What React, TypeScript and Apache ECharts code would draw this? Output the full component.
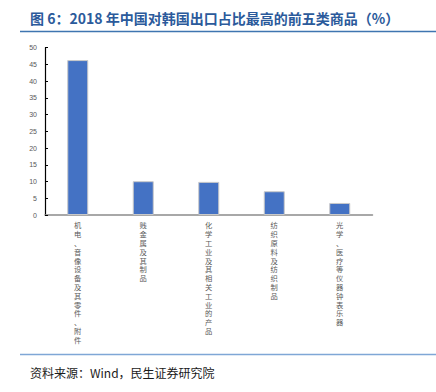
import React, { useEffect, useRef } from "react";
import * as echarts from "echarts";

const categories = [
  "机电、音像设备及其零件、附件",
  "贱金属及其制品",
  "化学工业及其相关工业的产品",
  "纺织原料及纺织制品",
  "光学、医疗等仪器钟表乐器",
];
const values = [46.3, 10.1, 9.9, 7.1, 3.6];
const yTicks = { min: 0, max: 50, interval: 5 };
const titleText = "图 6：2018 年中国对韩国出口占比最高的前五类商品（%）";
const sourceText = "资料来源：Wind，民生证券研究院";

export default function App() {
  const ref = useRef<HTMLDivElement>(null);
  useEffect(() => {
    document.body.style.margin = "0";
    const chart = echarts.init(ref.current!, null, { renderer: "svg" });
    chart.setOption({
      animation: false,
      backgroundColor: "#ffffff",
      grid: { left: 45, right: 63.5, top: 47.7, bottom: 177, containLabel: false },
      xAxis: {
        type: "category",
        data: categories,
        axisLine: { lineStyle: { color: "#8c8c8c", width: 1.5 } },
        axisTick: { show: false },
        axisLabel: {
          interval: 0,
          margin: 6,
          color: "#595959",
          fontSize: 7.3,
          lineHeight: 8.8,
          verticalAlign: "top",
          fontFamily: "Noto Sans CJK SC",
          formatter: (v: string) => v.split("").join("\n"),
        },
      },
      yAxis: {
        type: "value",
        min: yTicks.min,
        max: yTicks.max,
        interval: yTicks.interval,
        splitLine: { show: false },
        axisLine: { show: true, lineStyle: { color: "#000000", width: 1.2 } },
        axisTick: { show: true, inside: true, length: 3, lineStyle: { color: "#000000" } },
        axisLabel: {
          color: "#595959",
          fontSize: 7,
          margin: 8,
          fontFamily: "Liberation Sans, Arial, sans-serif",
        },
      },
      series: [
        {
          type: "bar",
          data: values,
          barWidth: 21,
          itemStyle: { color: "#4472C4", borderColor: "#c9c9c9", borderWidth: 1 },
        },
      ],
      graphic: [
        {
          type: "text",
          left: 30,
          top: 11,
          style: {
            text: titleText,
            fill: "#2B5A9B",
            font: "bold 14px 'Noto Sans CJK SC'",
          },
        },
        {
          type: "line",
          shape: { x1: 20, y1: 31.5, x2: 436, y2: 31.5 },
          style: { stroke: "#3F75B0", lineWidth: 1.5 },
        },
        {
          type: "line",
          shape: { x1: 20, y1: 354.5, x2: 436, y2: 354.5 },
          style: { stroke: "#7FA7D6", lineWidth: 1.5 },
        },
        {
          type: "text",
          left: 30,
          top: 366,
          style: {
            text: sourceText,
            fill: "#1a1a1a",
            font: "12px 'Noto Sans CJK SC'",
          },
        },
      ],
    });
    return () => chart.dispose();
  }, []);
  return <div ref={ref} style={{ width: 436, height: 392 }} />;
}
